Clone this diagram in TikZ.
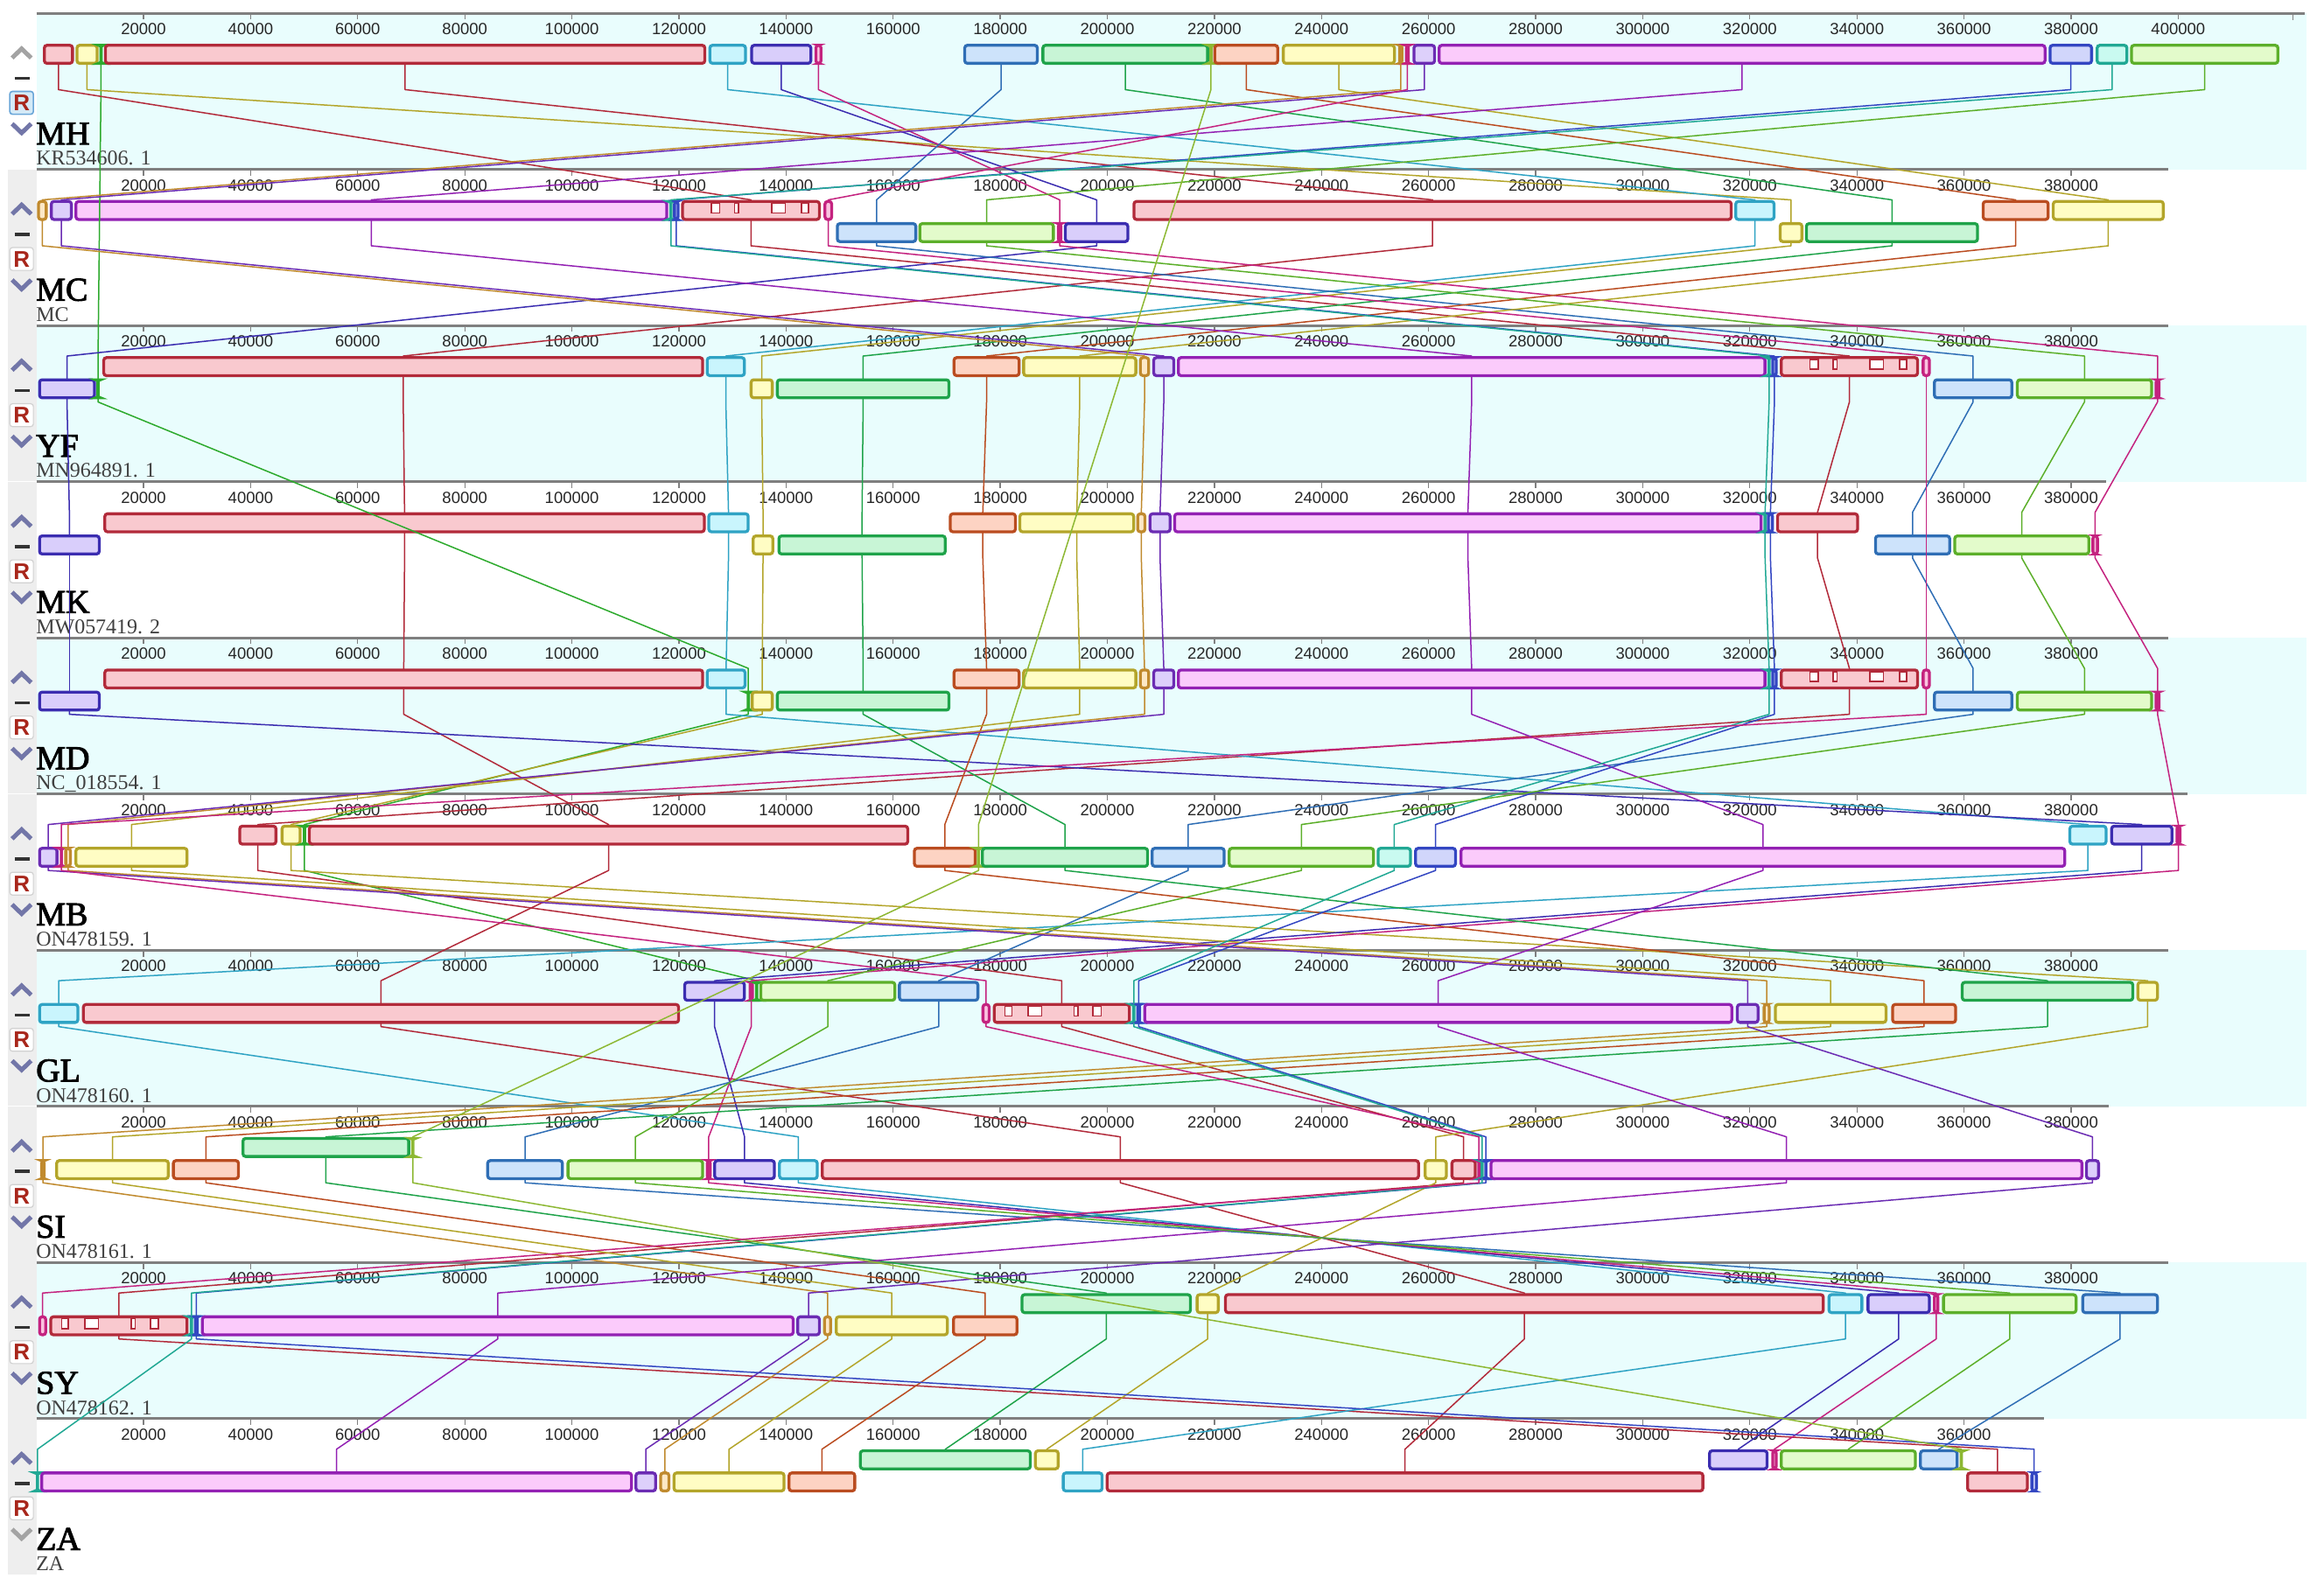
\documentclass[tikz,border=0pt]{standalone}
\usepackage{fontspec}
\setmainfont{Liberation Serif}
\newfontfamily\tickfont{Liberation Sans}
\newfontfamily\namefont[FakeBold=2.5]{Liberation Serif}
\usetikzlibrary{calc}
% LCB colours: c = border/line, f = fill
\definecolor{cL0}{HTML}{2DAA2D}\definecolor{fL0}{HTML}{C8F5C8}
\definecolor{cL1}{HTML}{B22A3A}\definecolor{fL1}{HTML}{F9C9CF}
\definecolor{cL2}{HTML}{B3A52A}\definecolor{fL2}{HTML}{FFFDC4}
\definecolor{cL3}{HTML}{B22A3A}\definecolor{fL3}{HTML}{F9C9CF}
\definecolor{cL4}{HTML}{2FA3C4}\definecolor{fL4}{HTML}{C9F5FD}
\definecolor{cL5}{HTML}{3B2DB0}\definecolor{fL5}{HTML}{D9CEFB}
\definecolor{cL6}{HTML}{C4237F}\definecolor{fL6}{HTML}{FBC3E0}
\definecolor{cL7}{HTML}{2F6EB5}\definecolor{fL7}{HTML}{CDE3FB}
\definecolor{cL8}{HTML}{1FA34A}\definecolor{fL8}{HTML}{C8F5D6}
\definecolor{cL9}{HTML}{BA4C20}\definecolor{fL9}{HTML}{FDD3C3}
\definecolor{cL10}{HTML}{B3A52A}\definecolor{fL10}{HTML}{FFFDC4}
\definecolor{cL11}{HTML}{C08A2E}\definecolor{fL11}{HTML}{FCE8C6}
\definecolor{cL12}{HTML}{6B2CB3}\definecolor{fL12}{HTML}{DDD0FB}
\definecolor{cL13}{HTML}{9321B3}\definecolor{fL13}{HTML}{FBCBFB}
\definecolor{cL14}{HTML}{3346C2}\definecolor{fL14}{HTML}{D1D6FB}
\definecolor{cL15}{HTML}{21A894}\definecolor{fL15}{HTML}{C9FAF0}
\definecolor{cL16}{HTML}{5CAF2A}\definecolor{fL16}{HTML}{E3FBCB}
\definecolor{cL17}{HTML}{8DB833}\definecolor{fL17}{HTML}{E8F7C8}
\definecolor{cL18}{HTML}{C4237F}\definecolor{fL18}{HTML}{FBC3E0}
\definecolor{bgcyan}{HTML}{E9FDFD}
\definecolor{colgrey}{HTML}{EEEEEE}
\definecolor{rulergrey}{HTML}{7F7F7F}
\definecolor{chevgrey}{HTML}{A3A3A3}
\definecolor{chevblue}{HTML}{7276A8}
\definecolor{rred}{HTML}{A8261B}
\definecolor{selfill}{HTML}{D5EAF7}
\definecolor{seldraw}{HTML}{6AA6D8}
% track ruler positions
\def\TMH{8.9}\def\TMC{114.3}\def\TYF{219.7}\def\TMK{325.1}\def\TMD{430.5}
\def\TMB{535.9}\def\TGL{641.3}\def\TSI{746.7}\def\TSY{852.1}\def\TZA{957.5}
% block: track, lcb, start kbp, end kbp, row (u/l)
\newcommand\blk[5]{%
  \pgfmathsetmacro\bx{(#3+#4)/2}%
  \pgfmathsetmacro\bw{max((#4-#3)*6.1193-3.3,0.4)}%
  \if#5u\pgfmathsetmacro\by{\csname T#1\endcsname+27.75}%
  \else\pgfmathsetmacro\by{\csname T#1\endcsname+42.7}\fi
  \node[blk, draw=c#2, fill=f#2, minimum width=\bw pt] (#1-#2) at (\bx,\by) {};%
}
% connectors of one LCB through a chain of tracks
\newcommand\chain[3]{%
  \foreach \t [remember=\t as \p (initially #2)] in {#3} {%
    \draw[conn, c#1] (\p-#1.south) -- (\p-#1.south |- \p-bot) -- (\t-#1.north |- \t-top) -- (\t-#1.north);
  }}
\newcommand\notchF[1]{%
  \foreach \a/\b in {0.21/0.27,0.38/0.41,0.65/0.75,0.87/0.92}{%
    \filldraw[notch] ($(#1.north west)!\a!(#1.north east)+(0,-2.2pt)$) rectangle ($(#1.south west)!0.35!(#1.north west)!\b!($(#1.south east)!0.35!(#1.north east)$)$);}}
\newcommand\notchR[1]{%
  \foreach \a/\b in {0.08/0.13,0.25/0.35,0.59/0.62,0.73/0.79}{%
    \filldraw[notch] ($(#1.north west)!\a!(#1.north east)+(0,-2.2pt)$) rectangle ($(#1.south west)!0.35!(#1.north west)!\b!($(#1.south east)!0.35!(#1.north east)$)$);}}
\begin{document}
\begin{tikzpicture}[x=6.1193pt,y=-1.6939pt,
  blk/.style={rectangle, rounded corners=3pt, line width=3.3pt, minimum height=20.6pt, inner sep=0pt, outer sep=0pt},
  conn/.style={line width=1.5pt, line join=round},
  notch/.style={fill=white, draw=cL1, line width=1.6pt},
  ruler/.style={rulergrey, line width=3pt},
  tickm/.style={rulergrey, line width=1.3pt},
  ticklab/.style={inner sep=0pt, text=black!85, font=\fontsize{18.5}{20}\tickfont},
  namelab/.style={inner sep=0pt, anchor=base west, font=\fontsize{38}{40}\namefont},
  acclab/.style={inner sep=0pt, anchor=base west, text=black!75, font=\fontsize{24}{26}\selectfont},
  chev/.style={line width=5pt, line cap=butt, line join=miter},
  rbox/.style={fill=white, draw=black!18, line width=1.2pt},
  rboxsel/.style={fill=selfill, draw=seldraw, line width=1.6pt},
  rlab/.style={inner sep=0pt, text=rred, font=\fontsize{26}{26}\tickfont\bfseries}]
\useasboundingbox (-6.81,0) rectangle (427.24,1074);
\fill[white] (-6.81,0) rectangle (427.24,1074);
% backgrounds
\foreach \ty in {8.9,219.7,430.5,641.3,852.1} \fill[bgcyan] (0,\ty) rectangle (423.9,\ty+105.4);
\foreach \ty in {114.3,219.7,325.1,430.5,535.9,641.3,746.7,852.1,957.5} \fill[colgrey] (-5.34,\ty) rectangle (0,\ty+105.2);
% rulers, labels, controls
\foreach \tr/\ty/\rlen/\mxk/\accn/\ucol/\dcol/\rbx in {
  MH/8.9/423.6/400/KR534606. 1/chevgrey/chevblue/rboxsel,
  MC/114.3/398.2/380/MC/chevblue/chevblue/rbox,
  YF/219.7/398.2/380/MN964891. 1/chevblue/chevblue/rbox,
  MK/325.1/386.5/380/MW057419. 2/chevblue/chevblue/rbox,
  MD/430.5/398.2/380/NC\_018554. 1/chevblue/chevblue/rbox,
  MB/535.9/401.8/380/ON478159. 1/chevblue/chevblue/rbox,
  GL/641.3/398.2/380/ON478160. 1/chevblue/chevblue/rbox,
  SI/746.7/387.1/380/ON478161. 1/chevblue/chevblue/rbox,
  SY/852.1/398.2/380/ON478162. 1/chevblue/chevblue/rbox,
  ZA/957.5/374.9/360/ZA/chevblue/chevgrey/rbox}{
  \coordinate (\tr-bot) at (0,\ty+51.6);
  \coordinate (\tr-top) at (0,\ty+20.6);
  \draw[ruler] (0,\ty) -- (\rlen,\ty);
  \foreach \k in {20,40,...,\mxk}{
    \draw[tickm] (\k,\ty) -- (\k,\ty+4.3);
    \node[ticklab] (\tr-t\k) at (\k,\ty+10.8) {\k000};
  }
  \draw[chev, \ucol] (-4.55,\ty+30.2) -- (-2.77,\ty+24.0) -- (-0.99,\ty+30.2);
  \draw[line width=3.5pt, black!80] (-4.04,\ty+43.9) -- (-1.33,\ty+43.9);
  \draw[\rbx, rounded corners=3pt] (-4.98,\ty+52.8) rectangle (-0.58,\ty+68.2);
  \node[rlab] (\tr-R) at (-2.78,\ty+60.6) {R};
  \draw[chev, \dcol] (-4.55,\ty+74.6) -- (-2.77,\ty+80.8) -- (-0.99,\ty+74.6);
  \node[namelab] (\tr-name) at (-0.1,\ty+88.6) {\tr};
  \node[acclab] (\tr-acc) at (-0.1,\ty+102.6) {\accn};
}
\draw[tickm] (421.4,8.9) -- (421.4,13.5);
% ---------------- blocks ----------------
% MH
\blk{MH}{L1}{1.2}{7.0}{u}
\blk{MH}{L2}{7.3}{11.6}{u}
\blk{MH}{L0}{11.85}{12.25}{u}
\blk{MH}{L3}{12.6}{125.1}{u}
\blk{MH}{L4}{125.5}{132.7}{u}
\blk{MH}{L5}{133.3}{144.9}{u}
\blk{MH}{L6}{145.3}{146.8}{u}
\blk{MH}{L7}{173.1}{187.2}{u}
\blk{MH}{L8}{187.7}{219.0}{u}
\blk{MH}{L17}{219.2}{219.5}{u}
\blk{MH}{L9}{219.8}{232.1}{u}
\blk{MH}{L10}{232.6}{253.9}{u}
\blk{MH}{L11}{254.3}{255.3}{u}
\blk{MH}{L18}{255.6}{256.5}{u}
\blk{MH}{L12}{257.0}{261.4}{u}
\blk{MH}{L13}{261.7}{375.4}{u}
\blk{MH}{L14}{375.8}{384.1}{u}
\blk{MH}{L15}{384.6}{390.7}{u}
\blk{MH}{L16}{391.0}{418.9}{u}
% MC
\blk{MC}{L11}{0.1}{2.1}{u}
\blk{MC}{L12}{2.5}{6.8}{u}
\blk{MC}{L13}{7.1}{118.0}{u}
\blk{MC}{L15}{118.2}{118.8}{u}
\blk{MC}{L14}{118.9}{120.1}{u}
\blk{MC}{L1}{120.4}{146.5}{u}
\blk{MC}{L18}{147.0}{148.8}{u}
\blk{MC}{L7}{149.3}{164.5}{l}
\blk{MC}{L16}{164.7}{190.2}{l}
\blk{MC}{L6}{190.6}{191.6}{l}
\blk{MC}{L5}{191.9}{204.1}{l}
\blk{MC}{L3}{204.7}{316.8}{u}
\blk{MC}{L4}{317.1}{324.8}{u}
\blk{MC}{L2}{325.4}{330.0}{l}
\blk{MC}{L8}{330.3}{362.8}{l}
\blk{MC}{L9}{363.3}{376.0}{u}
\blk{MC}{L10}{376.4}{397.5}{u}
% YF
\blk{YF}{L5}{0.3}{11.1}{l}
\blk{YF}{L0}{11.3}{11.7}{l}
\blk{YF}{L3}{12.3}{124.7}{u}
\blk{YF}{L4}{125.0}{132.5}{u}
\blk{YF}{L2}{133.2}{137.7}{l}
\blk{YF}{L8}{138.1}{170.7}{l}
\blk{YF}{L9}{171.1}{183.8}{u}
\blk{YF}{L10}{184.1}{205.6}{u}
\blk{YF}{L11}{205.9}{208.0}{u}
\blk{YF}{L12}{208.4}{212.7}{u}
\blk{YF}{L13}{213.0}{323.1}{u}
\blk{YF}{L15}{323.3}{323.9}{u}
\blk{YF}{L14}{324.0}{325.2}{u}
\blk{YF}{L1}{325.6}{351.6}{u}
\blk{YF}{L18}{352.1}{353.8}{u}
\blk{YF}{L7}{354.2}{369.2}{l}
\blk{YF}{L16}{369.7}{395.3}{l}
\blk{YF}{L6}{395.6}{396.7}{l}
% MK
\blk{MK}{L5}{0.3}{12.0}{l}
\blk{MK}{L3}{12.5}{125.0}{u}
\blk{MK}{L4}{125.3}{133.2}{u}
\blk{MK}{L2}{133.6}{137.8}{l}
\blk{MK}{L8}{138.4}{170.0}{l}
\blk{MK}{L9}{170.4}{183.1}{u}
\blk{MK}{L10}{183.4}{205.2}{u}
\blk{MK}{L11}{205.4}{207.3}{u}
\blk{MK}{L12}{207.7}{212.0}{u}
\blk{MK}{L13}{212.3}{322.4}{u}
\blk{MK}{L15}{322.6}{323.1}{u}
\blk{MK}{L14}{323.2}{324.5}{u}
\blk{MK}{L1}{324.9}{340.4}{u}
\blk{MK}{L7}{343.2}{357.6}{l}
\blk{MK}{L16}{358.0}{383.6}{l}
\blk{MK}{L6}{383.8}{385.2}{l}
% MD
\blk{MD}{L5}{0.3}{12.0}{l}
\blk{MD}{L3}{12.5}{124.7}{u}
\blk{MD}{L4}{125.0}{132.6}{u}
\blk{MD}{L0}{132.8}{133.1}{l}
\blk{MD}{L2}{133.4}{137.7}{l}
\blk{MD}{L8}{138.1}{170.7}{l}
\blk{MD}{L9}{171.1}{183.8}{u}
\blk{MD}{L10}{184.1}{205.6}{u}
\blk{MD}{L11}{205.9}{208.0}{u}
\blk{MD}{L12}{208.4}{212.7}{u}
\blk{MD}{L13}{213.0}{323.1}{u}
\blk{MD}{L15}{323.3}{323.9}{u}
\blk{MD}{L14}{324.0}{325.2}{u}
\blk{MD}{L1}{325.6}{351.6}{u}
\blk{MD}{L18}{352.1}{353.8}{u}
\blk{MD}{L7}{354.2}{369.2}{l}
\blk{MD}{L16}{369.7}{395.3}{l}
\blk{MD}{L6}{395.6}{396.7}{l}
% MB
\blk{MB}{L12}{0.3}{4.1}{l}
\blk{MB}{L18}{4.4}{4.9}{l}
\blk{MB}{L11}{5.2}{6.6}{l}
\blk{MB}{L10}{7.1}{28.4}{l}
\blk{MB}{L1}{37.7}{45.0}{u}
\blk{MB}{L2}{45.6}{49.5}{u}
\blk{MB}{L0}{49.8}{50.3}{u}
\blk{MB}{L3}{50.7}{163.0}{u}
\blk{MB}{L9}{163.7}{175.6}{l}
\blk{MB}{L17}{175.8}{176.1}{l}
\blk{MB}{L8}{176.4}{207.8}{l}
\blk{MB}{L7}{208.1}{222.1}{l}
\blk{MB}{L16}{222.5}{250.0}{l}
\blk{MB}{L15}{250.3}{256.9}{l}
\blk{MB}{L14}{257.3}{265.3}{l}
\blk{MB}{L13}{265.8}{379.1}{l}
\blk{MB}{L4}{379.5}{386.8}{u}
\blk{MB}{L5}{387.3}{399.1}{u}
\blk{MB}{L6}{399.5}{400.6}{u}
% GL
\blk{GL}{L4}{0.3}{8.0}{l}
\blk{GL}{L3}{8.5}{120.2}{l}
\blk{GL}{L5}{120.8}{132.5}{u}
\blk{GL}{L6}{133.0}{134.0}{u}
\blk{GL}{L0}{134.3}{134.7}{u}
\blk{GL}{L16}{135.0}{160.6}{u}
\blk{GL}{L7}{160.9}{176.1}{u}
\blk{GL}{L18}{176.5}{178.2}{l}
\blk{GL}{L1}{178.6}{204.4}{l}
\blk{GL}{L15}{204.7}{205.2}{l}
\blk{GL}{L14}{205.4}{206.3}{l}
\blk{GL}{L13}{206.7}{316.9}{l}
\blk{GL}{L12}{317.4}{321.8}{l}
\blk{GL}{L11}{322.4}{323.9}{l}
\blk{GL}{L10}{324.5}{345.7}{l}
\blk{GL}{L9}{346.4}{358.7}{l}
\blk{GL}{L8}{359.4}{391.8}{u}
\blk{GL}{L2}{392.2}{396.4}{u}
% SI
\blk{SI}{L11}{0.7}{1.7}{l}
\blk{SI}{L10}{3.5}{24.9}{l}
\blk{SI}{L9}{25.3}{38.0}{l}
\blk{SI}{L8}{38.3}{69.8}{u}
\blk{SI}{L17}{70.1}{70.5}{u}
\blk{SI}{L7}{84.0}{98.5}{l}
\blk{SI}{L16}{99.0}{124.7}{l}
\blk{SI}{L6}{125.0}{126.1}{l}
\blk{SI}{L5}{126.4}{138.1}{l}
\blk{SI}{L4}{138.5}{146.1}{l}
\blk{SI}{L3}{146.5}{258.4}{l}
\blk{SI}{L2}{259.1}{263.6}{l}
\blk{SI}{L1}{264.1}{269.0}{l}
\blk{SI}{L18}{269.2}{269.6}{l}
\blk{SI}{L15}{269.8}{270.2}{l}
\blk{SI}{L14}{270.4}{271.0}{l}
\blk{SI}{L13}{271.4}{382.3}{l}
\blk{SI}{L12}{382.6}{385.4}{l}
% SY
\blk{SY}{L18}{0.3}{2.0}{l}
\blk{SY}{L1}{2.4}{28.4}{l}
\blk{SY}{L15}{28.7}{29.2}{l}
\blk{SY}{L14}{29.4}{30.3}{l}
\blk{SY}{L13}{30.7}{141.6}{l}
\blk{SY}{L12}{141.9}{146.5}{l}
\blk{SY}{L11}{146.9}{148.6}{l}
\blk{SY}{L10}{149.1}{170.4}{l}
\blk{SY}{L9}{171.0}{183.4}{l}
\blk{SY}{L8}{183.8}{215.8}{u}
\blk{SY}{L2}{216.5}{221.0}{u}
\blk{SY}{L3}{221.8}{334.0}{u}
\blk{SY}{L4}{334.5}{341.2}{u}
\blk{SY}{L5}{341.8}{353.8}{u}
\blk{SY}{L6}{354.2}{355.4}{u}
\blk{SY}{L16}{355.9}{381.2}{u}
\blk{SY}{L7}{381.9}{396.4}{u}
% ZA
\blk{ZA}{L15}{0.0}{0.4}{l}
\blk{ZA}{L13}{0.7}{111.4}{l}
\blk{ZA}{L12}{111.7}{115.9}{l}
\blk{ZA}{L11}{116.3}{118.4}{l}
\blk{ZA}{L10}{118.8}{139.9}{l}
\blk{ZA}{L9}{140.3}{153.1}{l}
\blk{ZA}{L8}{153.6}{185.9}{u}
\blk{ZA}{L2}{186.3}{191.1}{u}
\blk{ZA}{L4}{191.5}{199.3}{l}
\blk{ZA}{L3}{199.7}{311.5}{l}
\blk{ZA}{L5}{312.2}{323.5}{u}
\blk{ZA}{L6}{324.0}{325.2}{u}
\blk{ZA}{L16}{325.6}{351.2}{u}
\blk{ZA}{L7}{351.6}{359.0}{u}
\blk{ZA}{L17}{359.3}{359.7}{u}
\blk{ZA}{L1}{360.4}{372.1}{l}
\blk{ZA}{L14}{372.4}{373.8}{l}
% low-similarity notches
\notchF{MC-L1}\notchF{YF-L1}\notchF{MD-L1}\notchR{GL-L1}\notchR{SY-L1}
% ---------------- connectors ----------------
\chain{L0}{MH}{YF,MD,MB,GL}
\chain{L1}{MH}{MC,YF,MK,MD,MB,GL,SI,SY,ZA}
\chain{L2}{MH}{MC,YF,MK,MD,MB,GL,SI,SY,ZA}
\chain{L3}{MH}{MC,YF,MK,MD,MB,GL,SI,SY,ZA}
\chain{L4}{MH}{MC,YF,MK,MD,MB,GL,SI,SY,ZA}
\chain{L5}{MH}{MC,YF,MK,MD,MB,GL,SI,SY,ZA}
\chain{L6}{MH}{MC,YF,MK,MD,MB,GL,SI,SY,ZA}
\chain{L7}{MH}{MC,YF,MK,MD,MB,GL,SI,SY,ZA}
\chain{L8}{MH}{MC,YF,MK,MD,MB,GL,SI,SY,ZA}
\chain{L9}{MH}{MC,YF,MK,MD,MB,GL,SI,SY,ZA}
\chain{L10}{MH}{MC,YF,MK,MD,MB,GL,SI,SY,ZA}
\chain{L11}{MH}{MC,YF,MK,MD,MB,GL,SI,SY,ZA}
\chain{L12}{MH}{MC,YF,MK,MD,MB,GL,SI,SY,ZA}
\chain{L13}{MH}{MC,YF,MK,MD,MB,GL,SI,SY,ZA}
\chain{L14}{MH}{MC,YF,MK,MD,MB,GL,SI,SY,ZA}
\chain{L15}{MH}{MC,YF,MK,MD,MB,GL,SI,SY,ZA}
\chain{L16}{MH}{MC,YF,MK,MD,MB,GL,SI,SY,ZA}
\chain{L17}{MH}{MB,SI,ZA}
\chain{L18}{MH}{MC,YF,MD,MB,GL,SI,SY}
\end{tikzpicture}
\end{document}
